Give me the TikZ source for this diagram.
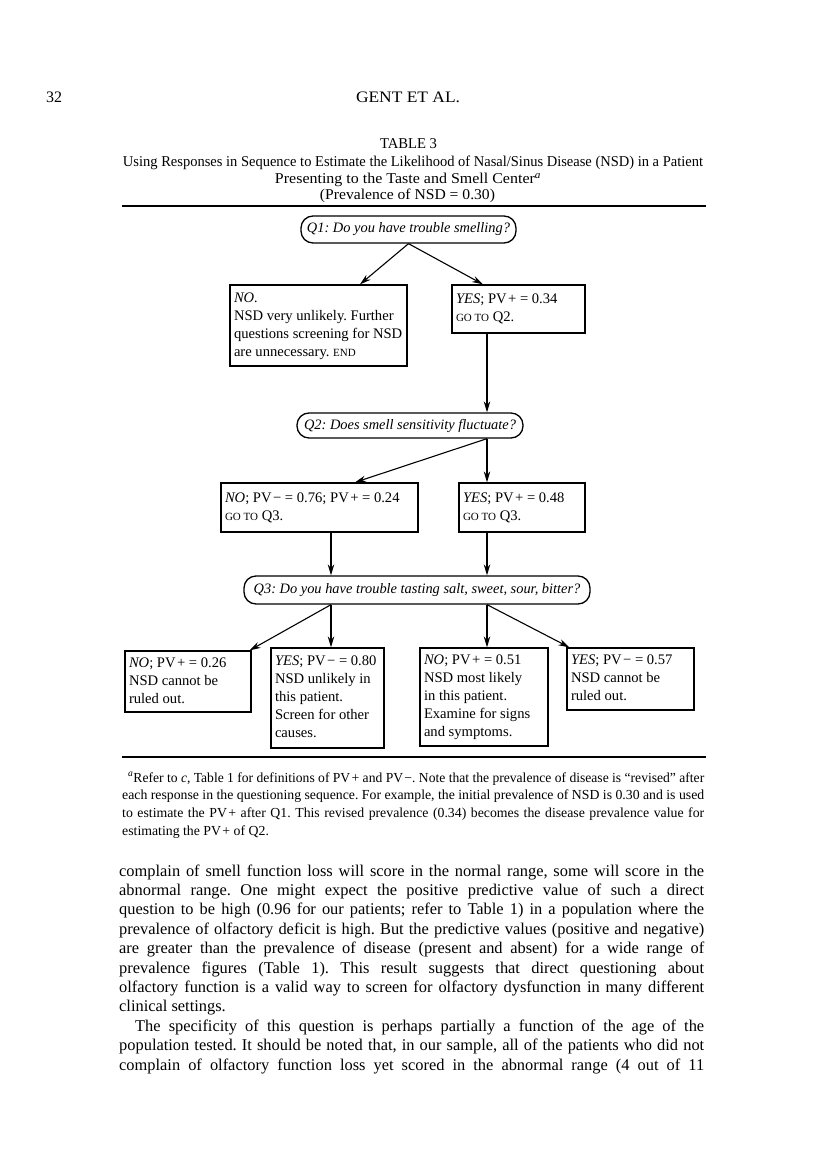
\documentclass[tikz,border=0pt]{standalone}
\usepackage{fontspec}
\setmainfont{Liberation Serif}
\usetikzlibrary{arrows.meta,calc}
\frenchspacing
\newcommand\fs[2]{\fontsize{#1}{#2}\selectfont}
\newcommand\smc[1]{{\fontsize{11}{10}\selectfont #1}}
\newcommand\pvp{PV\kern0.1em+}
\newcommand\pvm{PV\kern0.1em−}
\newlength\jlw
\newsavebox\jlbox
\newcommand\jline[2]{\setlength\jlw{#1}\sbox\jlbox{#2}%
  \ifdim\wd\jlbox>\jlw\resizebox{\jlw}{\height}{\usebox\jlbox}\else\makebox[\jlw][s]{#2}\fi}
\newcommand\wline[2]{\resizebox{#1}{\height}{#2}}
\tikzset{
  qbox/.style={draw, line width=1.3pt, rounded corners=12pt, inner sep=0pt, font=\fs{14.4}{17}\itshape},
  abox/.style={draw, line width=1.3pt, inner xsep=4pt, inner ysep=0pt, font=\fs{14.6}{18}},
  arr/.style={line width=1.1pt, -{Stealth[length=11pt,width=6.5pt]}},
  tablerule/.style={line width=2.2pt},
  bodytxt/.style={anchor=base west, inner sep=0pt, font=\fs{16.4}{19.4}},
  fntxt/.style={anchor=base west, inner sep=0pt, font=\fs{13.8}{17.7}},
  ttl/.style={anchor=base, inner sep=0pt, font=\fs{15}{17}},
}
\begin{document}
\begin{tikzpicture}[x=1pt,y=-1pt]
\useasboundingbox (0,0) rectangle (816,1158);
\fill[white] (0,0) rectangle (816,1158);
% header
\node[anchor=base west, inner sep=0pt, font=\fs{16}{18}] (pgno) at (46,103) {32};
\node[anchor=base, inner sep=0pt, font=\fs{16}{18}] (runhead) at (408,103) {\wline{104pt}{GENT ET AL.}};
% title
\node[ttl] (t0) at (408.5,149) {\wline{57pt}{TABLE 3}};
\node[ttl] (t1) at (413,167) {\wline{580pt}{Using Responses in Sequence to Estimate the Likelihood of Nasal/Sinus Disease (NSD) in a Patient}};
\node[ttl] (t2) at (408,184) {\wline{266pt}{Presenting to the Taste and Smell Center\textsuperscript{\textit{a}}}};
\node[ttl] (t3) at (407.5,200) {\wline{175pt}{(Prevalence of NSD = 0.30)}};
\coordinate (r1a) at (122,206);
\coordinate (r1b) at (706,206);
\draw[tablerule] (r1a) -- (r1b);
% questions
\node[qbox, minimum width=215pt, minimum height=27pt] (q1) at (408.5,229.5) {Q1: Do you have trouble smelling?};
\node[qbox, minimum width=226pt, minimum height=25pt] (q2) at (410,425.5) {Q2: Does smell sensitivity fluctuate?};
\node[qbox, minimum width=346pt, minimum height=28pt] (q3) at (417,590) {Q3: Do you have trouble tasting salt, sweet, sour, bitter?};
% answer boxes
\node[abox, minimum width=177pt, minimum height=81pt] (no1) at (318.5,325.5)
  {\makebox[169pt][l]{\begin{tabular}{@{}l@{}}\textit{NO.}\\ NSD very unlikely. Further\\ questions screening for NSD\\ are unnecessary. \smc{END}\end{tabular}}};
\node[abox, minimum width=133pt, minimum height=48pt] (yes1) at (518.5,309)
  {\makebox[125pt][l]{\begin{tabular}{@{}l@{}}\textit{YES}; \pvp{} = 0.34\\ \smc{GO TO} Q2.\end{tabular}}};
\node[abox, minimum width=197pt, minimum height=49pt] (no2) at (319.5,507.5)
  {\makebox[189pt][l]{\begin{tabular}{@{}l@{}}\textit{NO}; \pvm{} = 0.76; \pvp{} = 0.24\\ \smc{GO TO} Q3.\end{tabular}}};
\node[abox, minimum width=126pt, minimum height=49pt] (yes2) at (522,507.5)
  {\makebox[118pt][l]{\begin{tabular}{@{}l@{}}\textit{YES}; \pvp{} = 0.48\\ \smc{GO TO} Q3.\end{tabular}}};
\node[abox, minimum width=126pt, minimum height=61pt] (b1) at (188,681.5)
  {\makebox[118pt][l]{\begin{tabular}{@{}l@{}}\textit{NO}; \pvp{} = 0.26\\ NSD cannot be\\ ruled out.\end{tabular}}};
\node[abox, minimum width=113pt, minimum height=100pt] (b2) at (327.5,698)
  {\makebox[105pt][l]{\begin{tabular}{@{}l@{}}\textit{YES}; \pvm{} = 0.80\\ NSD unlikely in\\ this patient.\\ Screen for other\\ causes.\end{tabular}}};
\node[abox, minimum width=128pt, minimum height=98pt] (b3) at (484,697)
  {\makebox[120pt][l]{\begin{tabular}{@{}l@{}}\textit{NO}; \pvp{} = 0.51\\ NSD most likely\\ in this patient.\\ Examine for signs\\ and symptoms.\end{tabular}}};
\node[abox, minimum width=127pt, minimum height=62pt] (b4) at (630.5,679)
  {\makebox[119pt][l]{\begin{tabular}{@{}l@{}}\textit{YES}; \pvm{} = 0.57\\ NSD cannot be\\ ruled out.\end{tabular}}};
% connector points
\coordinate (no1i) at ([xshift=41.5pt]no1.north);
\coordinate (yes1i) at ([xshift=-35.5pt]yes1.north);
\coordinate (yes1o) at ([xshift=-31.5pt]yes1.south);
\coordinate (q2i) at (q2.north -| yes1o);
\coordinate (q2o) at (q2.south -| yes1o);
\coordinate (no2i) at ([xshift=35.5pt]no2.north);
\coordinate (yes2i) at (yes2.north -| yes1o);
\coordinate (no2o) at ([xshift=11.5pt]no2.south);
\coordinate (yes2o) at (yes2.south -| yes1o);
\coordinate (q3il) at (q3.north -| no2o);
\coordinate (q3ir) at (q3.north -| yes2o);
\coordinate (q3ol) at (q3.south -| no2o);
\coordinate (q3or) at (q3.south -| yes2o);
\coordinate (b1i) at ([xshift=-2pt]b1.north east);
\coordinate (b2i) at (b2.north -| no2o);
\coordinate (b3i) at (b3.north -| yes2o);
\coordinate (b4i) at ([xshift=3pt]b4.north west);
% connectors
\draw[arr] (q1.south) -- (no1i);
\draw[arr] (q1.south) -- (yes1i);
\draw[arr] (yes1o) -- (q2i);
\draw[arr] (q2o) -- (no2i);
\draw[arr] (q2o) -- (yes2i);
\draw[arr] (no2o) -- (q3il);
\draw[arr] (yes2o) -- (q3ir);
\draw[arr] (q3ol) -- (b1i);
\draw[arr] (q3ol) -- (b2i);
\draw[arr] (q3or) -- (b3i);
\draw[arr] (q3or) -- (b4i);
% bottom rule
\coordinate (r2a) at (122,757);
\coordinate (r2b) at (706,757);
\draw[tablerule, line width=1.9pt] (r2a) -- (r2b);
% footnote
\node[fntxt] (f1) at (128,782) {\jline{576pt}{\textsuperscript{\textit{a}}Refer to \textit{c}, Table 1 for definitions of \pvp{} and \pvm. Note that the prevalence of disease is “revised” after}};
\node[fntxt] (f2) at (122,799.7) {\jline{582pt}{each response in the questioning sequence. For example, the initial prevalence of NSD is 0.30 and is used}};
\node[fntxt] (f3) at (122,817.4) {\jline{582pt}{to estimate the \pvp{} after Q1. This revised prevalence (0.34) becomes the disease prevalence value for}};
\node[fntxt] (f4) at (122,835.1) {estimating the \pvp{} of Q2.};
% body text
\node[bodytxt] (l1) at (119,876) {\jline{585pt}{complain of smell function loss will score in the normal range, some will score in the}};
\node[bodytxt] (l2) at (119,895.4) {\jline{585pt}{abnormal range. One might expect the positive predictive value of such a direct}};
\node[bodytxt] (l3) at (119,914.8) {\jline{585pt}{question to be high (0.96 for our patients; refer to Table 1) in a population where the}};
\node[bodytxt] (l4) at (119,934.2) {\jline{585pt}{prevalence of olfactory deficit is high. But the predictive values (positive and negative)}};
\node[bodytxt] (l5) at (119,953.6) {\jline{585pt}{are greater than the prevalence of disease (present and absent) for a wide range of}};
\node[bodytxt] (l6) at (119,973) {\jline{585pt}{prevalence figures (Table 1). This result suggests that direct questioning about}};
\node[bodytxt] (l7) at (119,992.4) {\jline{585pt}{olfactory function is a valid way to screen for olfactory dysfunction in many different}};
\node[bodytxt] (l8) at (119,1011.8) {clinical settings.};
\node[bodytxt] (l9) at (135,1031.2) {\jline{569pt}{The specificity of this question is perhaps partially a function of the age of the}};
\node[bodytxt] (l10) at (119,1050.6) {\jline{585pt}{population tested. It should be noted that, in our sample, all of the patients who did not}};
\node[bodytxt] (l11) at (119,1070) {\jline{585pt}{complain of olfactory function loss yet scored in the abnormal range (4 out of 11}};
\end{tikzpicture}
\end{document}
